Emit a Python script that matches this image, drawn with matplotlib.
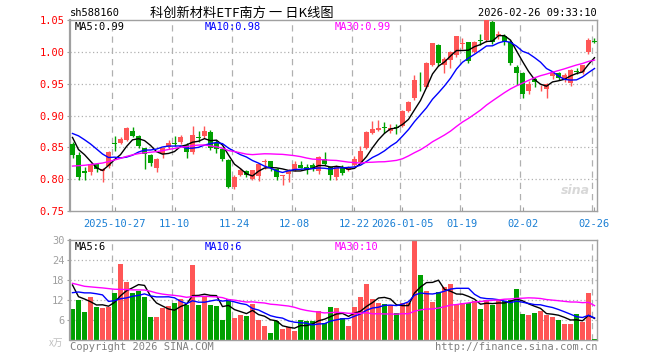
"""Sina 日K线图 recreation: 科创新材料ETF南方 (sh588160)."""
import numpy as np
import pandas as pd
import matplotlib.pyplot as plt

W, H = 660, 360

RED = "#ff5656"
GREEN = "#00a000"
GRID = "#b0b0b0"
FRAME = "#a0a0a0"
MONO = "DejaVu Sans Mono"

# daily candles, 2025-10-16 .. 2026-02-26
opens = [0.855, 0.838, 0.813, 0.8115, 0.8234, 0.813, 0.820, 0.8555, 0.8573, 0.8614,
         0.8755, 0.8677, 0.8484, 0.8375, 0.8172, 0.839, 0.8505, 0.8573, 0.858, 0.853,
         0.8427, 0.8655, 0.8677, 0.874, 0.857, 0.847, 0.830, 0.787, 0.8067, 0.813,
         0.801, 0.805, 0.827, 0.828, 0.8156, 0.8055, 0.808, 0.8145, 0.823, 0.819,
         0.823, 0.813, 0.832, 0.8192, 0.8036, 0.818, 0.8145, 0.822, 0.8277, 0.8495,
         0.873, 0.878, 0.8815, 0.8755, 0.8815, 0.8833, 0.9067, 0.9276, 0.954, 0.945,
         0.9797, 1.011, 0.9797, 0.9875, 0.9943, 1.013, 1.015, 1.0005, 1.0175, 1.0187,
         1.0473, 1.025, 1.025, 1.016, 0.9765, 0.967, 0.938, 0.958, 0.944, 0.941,
         0.9614, 0.9667, 0.956, 0.9505, 0.9695, 0.9683, 0.9995, 1.017]
highs = [0.858, 0.842, 0.8195, 0.826, 0.825, 0.817, 0.845, 0.868, 0.866, 0.882,
         0.8825, 0.869, 0.849, 0.840, 0.833, 0.851, 0.861, 0.868, 0.870, 0.857,
         0.884, 0.875, 0.884, 0.877, 0.861, 0.849, 0.832, 0.8065, 0.817, 0.815,
         0.815, 0.826, 0.8323, 0.829, 0.817, 0.807, 0.8156, 0.829, 0.829, 0.824,
         0.825, 0.836, 0.842, 0.820, 0.822, 0.822, 0.820, 0.836, 0.852, 0.876,
         0.892, 0.8927, 0.8905, 0.886, 0.886, 0.909, 0.922, 0.964, 0.969, 0.984,
         1.0136, 1.013, 0.992, 1.002, 1.0255, 1.0215, 1.016, 1.017, 1.028, 1.052,
         1.0505, 1.033, 1.028, 1.018, 0.979, 0.968, 0.954, 0.961, 0.948, 0.951,
         0.968, 0.969, 0.966, 0.973, 0.975, 0.980, 1.021, 1.021]
lows = [0.833, 0.7985, 0.7985, 0.807, 0.811, 0.795, 0.818, 0.844, 0.855, 0.860,
        0.866, 0.8495, 0.8156, 0.820, 0.812, 0.834, 0.848, 0.852, 0.855, 0.834,
        0.840, 0.858, 0.865, 0.846, 0.8405, 0.829, 0.786, 0.785, 0.805, 0.804,
        0.799, 0.797, 0.8156, 0.8125, 0.798, 0.7906, 0.795, 0.813, 0.817, 0.808,
        0.813, 0.8075, 0.822, 0.798, 0.7985, 0.807, 0.8125, 0.821, 0.827, 0.847,
        0.871, 0.876, 0.8725, 0.872, 0.8715, 0.882, 0.905, 0.925, 0.938, 0.943,
        0.977, 0.978, 0.967, 0.975, 0.992, 1.005, 0.983, 0.998, 1.011, 1.015,
        1.012, 1.020, 1.010, 0.980, 0.948, 0.928, 0.933, 0.944, 0.938, 0.928,
        0.958, 0.955, 0.953, 0.946, 0.965, 0.965, 0.997, 1.0135]
closes = [0.8375, 0.803, 0.809, 0.8235, 0.8167, 0.8156, 0.8427, 0.855, 0.8625, 0.8808,
          0.8677, 0.852, 0.840, 0.825, 0.8313, 0.8484, 0.8573, 0.8548, 0.8656, 0.8427,
          0.870, 0.8645, 0.8755, 0.8495, 0.847, 0.831, 0.787, 0.803, 0.8145, 0.806,
          0.8145, 0.8245, 0.828, 0.818, 0.804, 0.806, 0.813, 0.8234, 0.818, 0.815,
          0.8156, 0.835, 0.8234, 0.806, 0.8208, 0.809, 0.818, 0.831, 0.845, 0.874,
          0.879, 0.881, 0.881, 0.880, 0.881, 0.9067, 0.9208, 0.956, 0.9536, 0.9823,
          1.0136, 0.9823, 0.9886, 1.0005, 1.0255, 1.0136, 0.9849, 1.0162, 1.017, 1.050,
          1.016, 1.028, 1.016, 0.982, 0.966, 0.933, 0.950, 0.952, 0.945, 0.950,
          0.9667, 0.959, 0.9636, 0.9714, 0.969, 0.9786, 1.019, 1.016]
volumes = [9.3, 12.0, 8.4, 12.9, 9.9, 9.6, 9.9, 14.1, 22.8, 17.4,
           14.1, 14.7, 12.9, 6.9, 6.9, 9.6, 10.2, 11.1, 12.3, 10.5,
           22.5, 10.5, 12.9, 10.5, 10.2, 6.0, 12.3, 6.6, 7.5, 7.2,
           10.8, 6.0, 4.2, 2.1, 5.7, 3.3, 3.9, 2.7, 6.0, 5.7,
           5.7, 8.7, 5.1, 9.9, 9.6, 6.6, 4.2, 9.9, 12.9, 16.8,
           12.3, 11.1, 10.8, 10.5, 8.1, 11.1, 11.1, 29.7, 19.5, 14.7,
           11.4, 14.4, 15.9, 16.8, 10.5, 11.1, 11.1, 11.7, 9.3, 12.0,
           10.5, 12.0, 11.7, 12.0, 15.3, 7.8, 7.5, 8.1, 8.7, 7.5,
           6.9, 6.0, 4.8, 4.8, 7.8, 5.4, 14.1, 0.3]

# sessions before the window; they only feed the moving averages
prev_closes = [0.785, 0.790, 0.788, 0.782, 0.780, 0.776, 0.779, 0.785, 0.790, 0.795,
               0.793, 0.798, 0.800, 0.805, 0.803, 0.800, 0.806, 0.810, 0.812, 0.823,
               0.840, 0.870, 0.890, 0.895, 0.895, 0.898, 0.849, 0.875, 0.868]
prev_volumes = [25, 22, 18, 15, 14, 16, 20, 24, 19, 17,
                15, 14, 18, 22, 20, 17, 16, 19, 21, 16,
                10, 11, 13, 12.5, 13, 29.5, 11.9, 16.9, 14.9]

tick_idx = [7, 17, 27, 37, 47, 55, 65, 75, 87]
tick_labels = ["2025-10-27", "11-10", "11-24", "12-08", "12-22",
               "2026-01-05", "01-19", "02-02", "02-26"]
price_ticks = [0.75, 0.80, 0.85, 0.90, 0.95, 1.00, 1.05]
vol_ticks = [6, 12, 18, 24, 30]


def ma(prev, vals, n):
    s = pd.Series(list(prev) + list(vals)).rolling(n).mean()
    return s.to_numpy()[len(prev):]


def px_axes(fig, left, top, right, bottom):
    return fig.add_axes([left / W, 1 - bottom / H, (right - left) / W, (bottom - top) / H])


def style_frame(ax):
    for s in ax.spines.values():
        s.set_color(FRAME)
        s.set_linewidth(1.0)
    ax.spines["left"].set_linewidth(1.6)
    ax.set_facecolor("white")


x = np.arange(len(closes))
o, h, l, c = map(np.array, (opens, highs, lows, closes))
v = np.array(volumes)
up = c >= o
cols = np.where(up, RED, GREEN)

fig = plt.figure(figsize=(W / 100, H / 100), dpi=100, facecolor="white")
xlim = (-2.5 / 6, len(x) - 1 + 2.5 / 6)

# ---- price pane
ax = px_axes(fig, 70, 20, 597, 211)
style_frame(ax)
ax.set_xlim(*xlim)
ax.set_ylim(0.75, 1.05)
for y in price_ticks[1:-1]:
    ax.axhline(y, color=GRID, lw=0.9, ls=(0, (1, 2)), zorder=0)
for t in tick_idx:
    ax.axvline(t - 0.4, color=GRID, lw=0.9, ls=(0, (5, 4)), zorder=0)
ax.vlines(x, l, h, colors=cols, lw=1.0, zorder=2)
ax.bar(x, np.maximum(np.abs(c - o), 0.0012), bottom=np.minimum(o, c), width=0.83,
       color=cols, linewidth=0, zorder=3)
ax.plot(x, ma(prev_closes, closes, 5), color="black", lw=1.0, zorder=4)
ax.plot(x, ma(prev_closes, closes, 10), color="#0000ff", lw=1.0, zorder=4)
ax.plot(x, ma(prev_closes, closes, 30), color="#ff00ff", lw=1.0, zorder=4)
ax.set_yticks(price_ticks)
ax.set_yticklabels([f"{p:.2f}" for p in price_ticks], color="#ff0000",
                   fontsize=7.5, family=MONO)
ax.set_xticks(tick_idx)
ax.set_xticklabels(tick_labels, color="#1a7fd4", fontsize=7.5, family=MONO)
ax.tick_params(axis="y", length=2, pad=2, color=FRAME)
ax.tick_params(axis="x", length=3, direction="in", pad=6, color=FRAME)

ax.text(5 / 527, 1 - 7 / 191, "MA5:0.99", transform=ax.transAxes, color="black",
        fontsize=7.5, family=MONO, va="center")
ax.text(135 / 527, 1 - 7 / 191, "MA10:0.98", transform=ax.transAxes, color="#0000ff",
        fontsize=7.5, family=MONO, va="center")
ax.text(265 / 527, 1 - 7 / 191, "MA30:0.99", transform=ax.transAxes, color="#ff00ff",
        fontsize=7.5, family=MONO, va="center")

# ---- volume pane
vx = px_axes(fig, 70, 240, 597, 340)
style_frame(vx)
vx.set_xlim(*xlim)
vx.set_ylim(0, 30)
for y in vol_ticks[:-1]:
    vx.axhline(y, color=GRID, lw=0.9, ls=(0, (1, 2)), zorder=0)
for t in tick_idx:
    vx.axvline(t - 0.4, color=GRID, lw=0.9, ls=(0, (5, 4)), zorder=0)
vx.bar(x, v, width=0.83, color=cols, linewidth=0, zorder=2)
vx.plot(x, ma(prev_volumes, volumes, 5), color="black", lw=1.0, zorder=4)
vx.plot(x, ma(prev_volumes, volumes, 10), color="#0000ff", lw=1.0, zorder=4)
vx.plot(x, ma(prev_volumes, volumes, 30), color="#ff00ff", lw=1.0, zorder=4)
vx.set_yticks(vol_ticks)
vx.set_yticklabels([str(t) for t in vol_ticks], color="#a0a0a0", fontsize=7.5, family=MONO)
vx.set_xticks([])
vx.tick_params(axis="y", length=2, pad=2, color=FRAME)
vx.text(5 / 527, 1 - 7 / 100, "MA5:6", transform=vx.transAxes, color="black",
        fontsize=7.5, family=MONO, va="center")
vx.text(135 / 527, 1 - 7 / 100, "MA10:6", transform=vx.transAxes, color="#0000ff",
        fontsize=7.5, family=MONO, va="center")
vx.text(265 / 527, 1 - 7 / 100, "MA30:10", transform=vx.transAxes, color="#ff00ff",
        fontsize=7.5, family=MONO, va="center")

# ---- header / footer text
fig.text(70 / W, 1 - 13 / H, "sh588160", fontsize=7.5, family=MONO, va="center")
fig.text(150 / W, 1 - 13 / H, "科创新材料ETF南方 一 日K线图", fontsize=9.5,
         family=["Noto Sans CJK SC", "DejaVu Sans"], va="center")
fig.text(597 / W, 1 - 13 / H, "2026-02-26 09:33:10", fontsize=7.5, family=MONO,
         va="center", ha="right")
fig.text(63 / W, 1 - 343 / H, "x万", fontsize=7, color="#c0c0c0",
         family=["Noto Sans CJK SC", "DejaVu Sans"], va="center", ha="right")
fig.text(70 / W, 1 - 347 / H, "Copyright 2026 SINA.COM", fontsize=7.5, family=MONO,
         color="#808080", va="center")
fig.text(597 / W, 1 - 347 / H, "http://finance.sina.com.cn", fontsize=7.5, family=MONO,
         color="#808080", va="center", ha="right")
fig.text(575 / W, 1 - 190 / H, "sina", fontsize=9, color="#d8d8d8", style="italic",
         weight="bold", va="center", ha="center")

fig.savefig("out.png", dpi=100, facecolor="white")
